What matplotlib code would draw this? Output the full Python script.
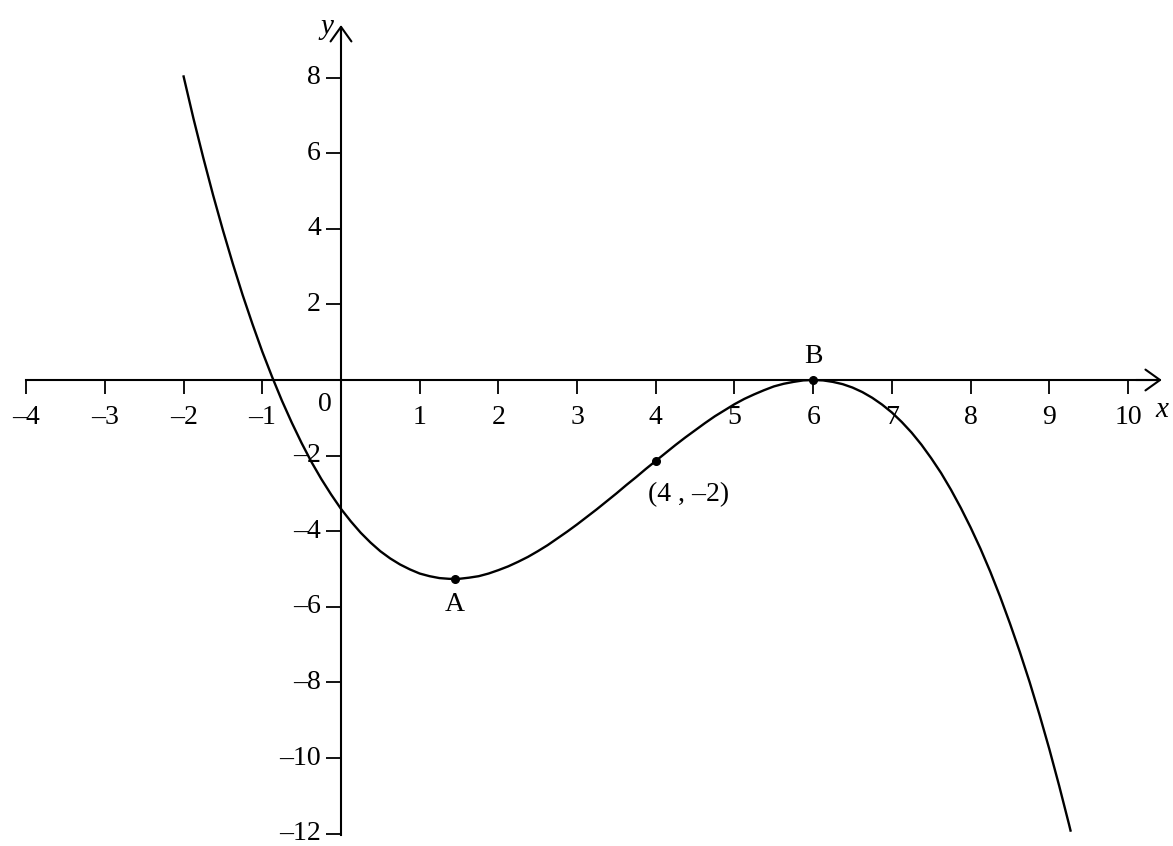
import matplotlib.pyplot as plt

# fuente tipo Times
plt.rcParams['font.family'] = ['Liberation Serif', 'DejaVu Serif']

# curva
x_curva = [-2.0, -1.875, -1.75, -1.625, -1.5, -1.375, -1.25, -1.125, -1.0, -0.875,
           -0.75, -0.625, -0.5, -0.375, -0.25, -0.125, 0.0, 0.125, 0.25, 0.375,
           0.5, 0.625, 0.75, 0.875, 1.0, 1.125, 1.25, 1.375, 1.5, 1.625,
           1.75, 1.875, 2.0, 2.125, 2.25, 2.375, 2.5, 2.625, 2.75, 2.875,
           3.0, 3.125, 3.25, 3.375, 3.5, 3.625, 3.75, 3.875, 4.0, 4.125,
           4.25, 4.375, 4.5, 4.625, 4.75, 4.875, 5.0, 5.125, 5.25, 5.375,
           5.5, 5.625, 5.75, 5.875, 6.0, 6.125, 6.25, 6.375, 6.5, 6.625,
           6.75, 6.875, 7.0, 7.125, 7.25, 7.375, 7.5, 7.625, 7.75, 7.875,
           8.0, 8.125, 8.25, 8.375, 8.5, 8.625, 8.75, 8.875, 9.0, 9.125,
           9.25, 9.27]
y_curva = [8.03, 6.92, 5.88, 4.89, 3.96, 3.08, 2.25, 1.48, 0.75, 0.08,
           -0.55, -1.13, -1.67, -2.17, -2.62, -3.03, -3.41, -3.74, -4.04, -4.30,
           -4.53, -4.72, -4.88, -5.01, -5.12, -5.19, -5.24, -5.26, -5.26, -5.23,
           -5.19, -5.12, -5.03, -4.93, -4.81, -4.68, -4.53, -4.37, -4.19, -4.01,
           -3.82, -3.62, -3.42, -3.21, -3.00, -2.78, -2.57, -2.35, -2.14, -1.93,
           -1.72, -1.52, -1.33, -1.14, -0.96, -0.80, -0.64, -0.50, -0.38, -0.27,
           -0.17, -0.10, -0.05, -0.01, 0.0, -0.01, -0.05, -0.11, -0.20, -0.32,
           -0.47, -0.65, -0.86, -1.11, -1.39, -1.71, -2.07, -2.46, -2.90, -3.38,
           -3.90, -4.46, -5.07, -5.73, -6.44, -7.19, -7.99, -8.85, -9.76, -10.73,
           -11.75, -11.92]

# puntos marcados
puntos_x = [1.45, 4, 6]
puntos_y = [-5.26, -2.14, 0]
etiquetas = ['A', '(4 , \u20132)', 'B']

x_ticks = [-4, -3, -2, -1, 1, 2, 3, 4, 5, 6, 7, 8, 9, 10]
y_ticks = [-12, -10, -8, -6, -4, -2, 2, 4, 6, 8]


def etiqueta(v):
    return str(v).replace('-', '\u2013')


fig = plt.figure(figsize=(11.73, 8.46), dpi=100)
ax = fig.add_axes([0, 0, 1, 1])
ax.set_xlim(-4.333, 10.572)
ax.set_ylim(-12.328, 10.053)

ax.plot(x_curva, y_curva, color='black', linewidth=1.7, solid_joinstyle='round')
ax.plot(puntos_x, puntos_y, 'o', color='black', markersize=5.5)

# ejes por el origen
ax.spines['right'].set_visible(False)
ax.spines['top'].set_visible(False)
ax.spines['left'].set_position(('data', 0))
ax.spines['bottom'].set_position(('data', 0))
ax.spines['left'].set_bounds(-12.05, 9.3)
ax.spines['bottom'].set_bounds(-4, 10.35)
for s in ['left', 'bottom']:
    ax.spines[s].set_linewidth(1.5)

tam = 20
ax.set_xticks(x_ticks)
ax.set_xticklabels([etiqueta(t) for t in x_ticks])
ax.set_yticks(y_ticks)
ax.set_yticklabels([etiqueta(t) for t in y_ticks])
ax.tick_params(axis='x', direction='out', length=10, width=1.3, pad=8, labelsize=tam)
ax.tick_params(axis='y', direction='out', length=10.5, width=1.3, pad=4, labelsize=tam)
for lbl in ax.get_yticklabels():
    lbl.set_verticalalignment('center')

# flechas de los ejes
flecha = dict(arrowstyle='->,head_length=0.7,head_width=0.5', lw=1.5, color='black',
              shrinkA=0, shrinkB=0, mutation_scale=15)
ax.annotate('', xy=(10.43, 0), xytext=(10.1, 0), arrowprops=flecha)
ax.annotate('', xy=(0, 9.39), xytext=(0, 9.0), arrowprops=flecha)

ax.text(10.43, -0.79, 'x', fontsize=21, style='italic', ha='center', va='center')
ax.text(-0.1, 9.34, 'y', fontsize=21, style='italic', ha='right', va='center')
ax.text(-0.12, -0.66, '0', fontsize=tam, ha='right', va='center')

# etiquetas de los puntos
ax.text(1.45, -5.93, etiquetas[0], fontsize=tam, ha='center', va='center')
ax.text(4.42, -3.02, etiquetas[1], fontsize=tam, ha='center', va='center')
ax.text(6.0, 0.61, etiquetas[2], fontsize=tam, ha='center', va='center')

plt.savefig('out.png', dpi=100)
plt.close()
